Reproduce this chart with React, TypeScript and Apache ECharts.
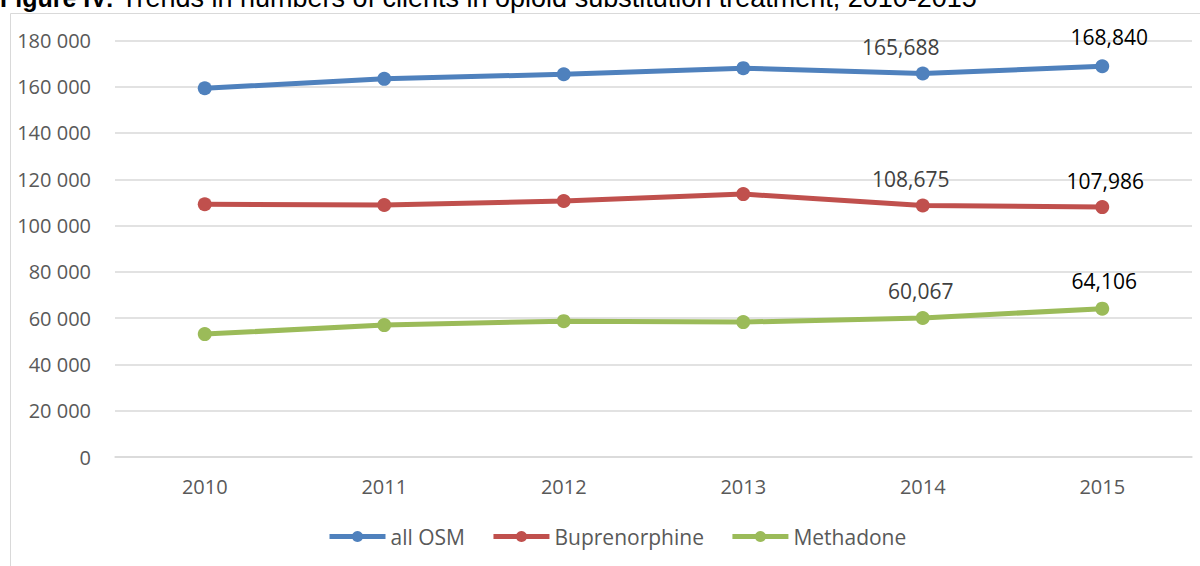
import React, { useEffect, useRef } from "react";
import * as echarts from "echarts";

const years = ["2010", "2011", "2012", "2013", "2014", "2015"];
const allOSM = [159300, 163400, 165400, 168000, 165688, 168840];
const buprenorphine = [109200, 108900, 110600, 113600, 108675, 107986];
const methadone = [53100, 57000, 58700, 58300, 60067, 64106];
const seriesNames = ["all OSM", "Buprenorphine", "Methadone"];
const yTicks = { min: 0, max: 180000, interval: 20000 };
const titleBold = "Figure IV:";
const titleRest = " Trends in numbers of clients in opioid substitution treatment, 2010-2015";

const FONT = "'Open Sans', sans-serif";

function fmtThousands(v: number) {
  return String(v).replace(/\B(?=(\d{3})+(?!\d))/g, " ");
}
function fmtComma(v: number) {
  return String(v).replace(/\B(?=(\d{3})+(?!\d))/g, ",");
}

// label offsets [dx, dy] for labelled points (2014, 2015)
const labelOffsets: Record<string, Record<number, [number, number]>> = {
  "all OSM": { 4: [-22, 0], 5: [7, -3] },
  Buprenorphine: { 4: [-12, 0], 5: [3, 0] },
  Methadone: { 4: [-2, 0], 5: [2, -1] },
};
const labelColors: Record<number, string> = { 4: "#404040", 5: "#000000" };

function buildData(name: string, values: number[]) {
  return values.map((v, i) => {
    const off = labelOffsets[name][i];
    if (!off) return v;
    return {
      value: v,
      label: {
        show: true,
        position: "top",
        distance: 9,
        offset: off,
        color: labelColors[i],
        fontSize: 21,
        fontFamily: FONT,
        formatter: (p: any) => fmtComma(p.value),
      },
    };
  });
}

export default function App() {
  const ref = useRef<HTMLDivElement>(null);
  useEffect(() => {
    if (!ref.current) return;
    const chart = echarts.init(ref.current, undefined, { renderer: "svg" });
    const colors = ["#4F81BD", "#C0504D", "#9BBB59"];
    const values = [allOSM, buprenorphine, methadone];
    chart.setOption({
      animation: false,
      color: colors,
      graphic: [
        {
          type: "rect",
          shape: { x: 10.5, y: 13.5, width: 1300, height: 700 },
          style: { fill: "none", stroke: "#d9d9d9", lineWidth: 1 },
          silent: true,
        },
        {
          type: "text",
          x: 0,
          y: -2,
          style: {
            text: `{b|${titleBold}}{n|${titleRest}}`,
            verticalAlign: "middle",
            align: "left",
            rich: {
              b: { fontFamily: "'Liberation Sans', Arial, sans-serif", fontWeight: "bold", fontSize: 25, fill: "#000" },
              n: { fontFamily: "'Liberation Sans', Arial, sans-serif", fontSize: 27, fill: "#000" },
            },
          },
        },
      ],
      grid: { left: 115, right: 8, top: 40.4, bottom: 109, containLabel: false },
      legend: {
        bottom: 19,
        left: 327,
        padding: 0,
        itemWidth: 56,
        itemHeight: 14,
        itemGap: 26,
        lineStyle: { width: 5 },
        textStyle: { fontFamily: FONT, fontSize: 21, color: "#595959", padding: [0, 0, 0, 0] },
        data: seriesNames,
      },
      xAxis: {
        type: "category",
        data: years,
        boundaryGap: true,
        axisLine: { show: true, lineStyle: { color: "#d9d9d9", width: 1.5 } },
        axisTick: { show: false },
        axisLabel: { fontFamily: FONT, fontSize: 20, color: "#595959", margin: 19 },
      },
      yAxis: {
        type: "value",
        min: yTicks.min,
        max: yTicks.max,
        interval: yTicks.interval,
        axisLine: { show: false },
        axisTick: { show: false },
        splitLine: { lineStyle: { color: "#d9d9d9", width: 1.5 } },
        axisLabel: {
          fontFamily: FONT,
          fontSize: 20,
          color: "#595959",
          margin: 24,
          formatter: (v: number) => fmtThousands(v),
        },
      },
      series: seriesNames.map((name, k) => ({
        name,
        type: "line",
        data: buildData(name, values[k]),
        symbol: "circle",
        symbolSize: 14,
        lineStyle: { width: 5, color: colors[k] },
        itemStyle: { color: colors[k] },
        label: { show: false },
      })),
    });
    return () => chart.dispose();
  }, []);
  return (
    <div
      ref={ref}
      style={{ position: "fixed", left: 0, top: 0, width: 1200, height: 566, background: "#fff" }}
    />
  );
}
